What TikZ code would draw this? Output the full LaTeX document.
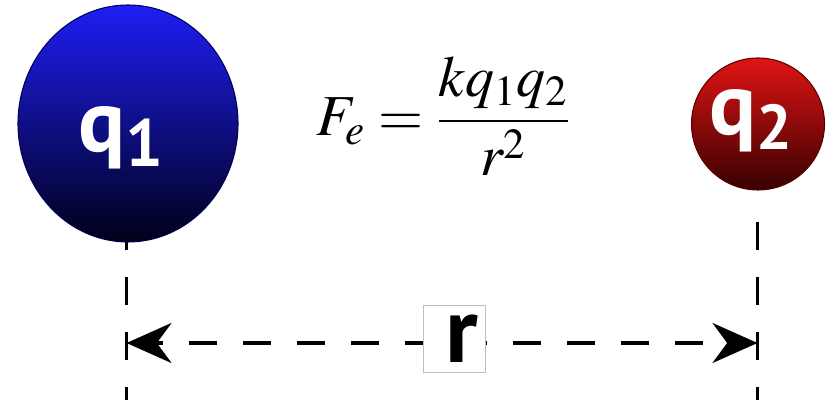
\documentclass[tikz,border=0pt]{standalone}
\usepackage{amsmath}
\usepackage{mathptmx}
\usepackage{fontspec}
\setmainfont{Liberation Serif}
\newfontfamily\lblfont{PT Sans}
\usetikzlibrary{arrows.meta,shapes.geometric}
\definecolor{blueTop}{RGB}{30,30,245}
\definecolor{blueMid}{RGB}{15,15,205}
\definecolor{blueBot}{RGB}{0,0,25}
\definecolor{redTop}{RGB}{225,20,20}
\definecolor{redMid}{RGB}{180,5,5}
\definecolor{redBot}{RGB}{55,0,0}

\begin{document}
\begin{tikzpicture}[>={Stealth[length=0.9cm,width=0.8cm]}, font=\lblfont\bfseries]
		\tikzset{
			guide/.style={line width=0.07cm, dash pattern=on 0.56cm off 0.54cm},
			charge/.style={ellipse, inner sep=0pt, shading angle=15, line width=0.6pt},
			qlabel/.style={anchor=base, white, inner sep=0pt, font=\lblfont\bfseries\fontsize{50}{50}\selectfont},
			rbox/.style={draw=black!25, fill=white, line width=0.5pt, minimum width=1.24cm, minimum height=1.34cm, inner sep=0pt, font=\lblfont\bfseries\fontsize{53}{53}\selectfont}
		}
		\useasboundingbox (0,0) rectangle (16.66,8);
		\def\xa{2.53}\def\xb{15.15}
		% dashed guides below the charges
		\coordinate (top1) at (\xa,3.56); \coordinate (bot1) at (\xa,0);
		\coordinate (top2) at (\xb,3.56); \coordinate (bot2) at (\xb,0);
		\draw[guide] (top1) -- (bot1);
		\draw[guide] (top2) -- (bot2);
		% the two charges
		\node[charge, minimum width=4.4cm, minimum height=4.74cm, draw=blue!35!black,
			top color=blueTop, middle color=blueMid, bottom color=blueBot] (q1) at (2.56,5.53) {};
		\node[charge, minimum width=2.66cm, minimum height=2.64cm, draw=red!35!black,
			top color=redTop, middle color=redMid, bottom color=redBot] (q2) at (15.16,5.52) {};
		\node[qlabel] (q1-lab) at (2.42,4.96) {q\raisebox{-0.3cm}{\fontsize{38}{38}\selectfont 1}};
		\node[qlabel] (q2-lab) at (15.02,5.3) {q\raisebox{-0.3cm}{\fontsize{36}{36}\selectfont 2}};
		% Coulomb's law
		\node (force) at (8.86,5.68) {\fontsize{33}{38}\selectfont $F_e=\dfrac{kq_1q_2}{r^2}$};
		% separation r
		\coordinate (a1) at (\xa,1.14); \coordinate (a2) at (\xb,1.14);
		\draw[<->, line width=0.07cm, dash pattern=on 0.56cm off 0.52cm, dash phase=0.42cm] (a1) -- (a2);
		\node[rbox] (r) at (9.08,1.23) {\hspace*{0.3cm}r};
	\end{tikzpicture}
\end{document}
